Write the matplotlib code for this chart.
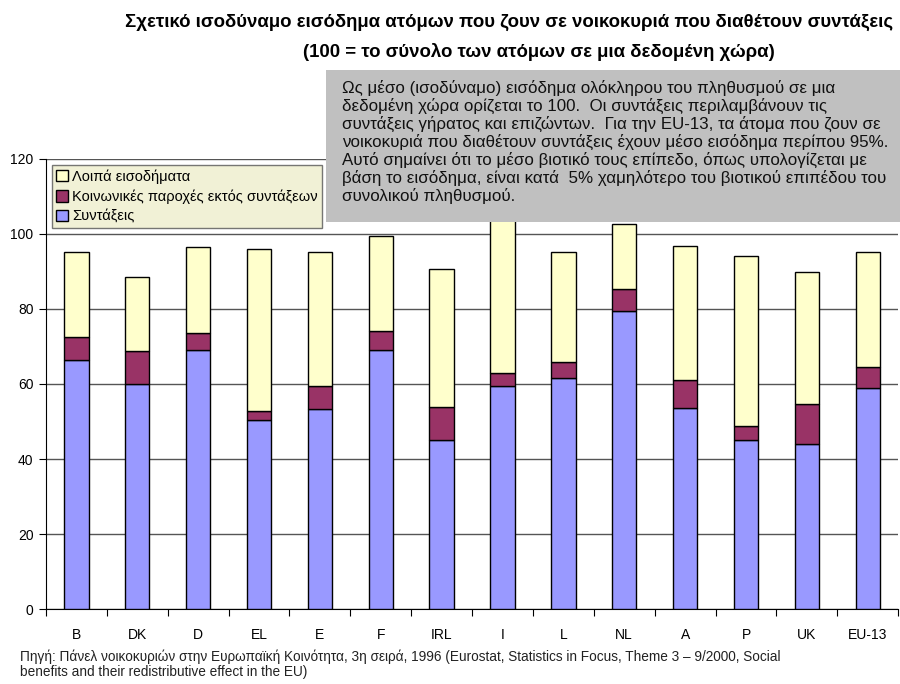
import matplotlib.pyplot as plt
import matplotlib.patches as mpatches
import numpy as np

plt.rcParams['font.family'] = ['Liberation Sans', 'DejaVu Sans']

# Δεδομένα (διαβασμένα από το γράφημα)
countries = ['B', 'DK', 'D', 'EL', 'E', 'F', 'IRL', 'I', 'L', 'NL', 'A', 'P', 'UK', 'EU-13']
pensions = [66.4, 60.1, 69.1, 50.4, 53.3, 69.1, 45.0, 59.5, 61.5, 79.5, 53.5, 45.2, 44.0, 58.9]
pens_plus_social = [72.6, 68.7, 73.7, 52.9, 59.4, 74.2, 53.9, 62.9, 65.9, 85.4, 61.0, 48.9, 54.7, 64.5]
totals = [95.1, 88.4, 96.6, 95.9, 95.3, 99.5, 90.6, 105.0, 95.3, 102.7, 96.9, 94.0, 89.8, 95.2]

social = np.array(pens_plus_social) - np.array(pensions)
other = np.array(totals) - np.array(pens_plus_social)

labels = ['Συντάξεις', 'Κοινωνικές παροχές εκτός συντάξεων', 'Λοιπά εισοδήματα']
colors = ['#9999FF', '#993366', '#FFFFCC']

fig = plt.figure(figsize=(9, 6.84), dpi=100)
ax = fig.add_axes([0.051, 0.1096, 0.947, 0.658])

x = np.arange(len(countries))
w = 0.4
b1 = ax.bar(x, pensions, w, color=colors[0], edgecolor='black', linewidth=1, zorder=3, label=labels[0])
b2 = ax.bar(x, social, w, bottom=pensions, color=colors[1], edgecolor='black', linewidth=1, zorder=3, label=labels[1])
b3 = ax.bar(x, other, w, bottom=pens_plus_social, color=colors[2], edgecolor='black', linewidth=1, zorder=3, label=labels[2])

ax.set_xlim(-0.5, len(countries) - 0.5)
ax.set_ylim(0, 120)
ax.set_yticks(range(0, 121, 20))
ax.yaxis.grid(True, color='#555555', linewidth=1)
ax.set_axisbelow(True)

# x ticks ανάμεσα στις κατηγορίες
ax.set_xticks(np.arange(-0.5, len(countries), 1.0), minor=False)
ax.set_xticklabels([])
ax.set_xticks(x, minor=True)
ax.set_xticklabels(countries, minor=True, fontsize=10)
ax.tick_params(axis='x', which='minor', length=0, pad=14)
ax.tick_params(axis='x', which='major', length=5, direction='out', color='black')
ax.tick_params(axis='y', length=5, direction='out', labelsize=10, pad=4)

for side in ['top', 'right']:
    ax.spines[side].set_visible(False)
ax.spines['left'].set_color('black')
ax.spines['bottom'].set_color('black')

leg = ax.legend(handles=[b3, b2, b1], labels=labels[::-1], loc='upper left',
                bbox_to_anchor=(0.007, 0.987), fontsize=10.5, frameon=True,
                fancybox=False, facecolor='#EEEECC', edgecolor='#555555',
                handlelength=0.8, handleheight=0.8, handletextpad=0.3,
                labelspacing=0.4, borderpad=0.3, borderaxespad=0)
leg.get_frame().set_linewidth(1)
leg.set_zorder(5)

# Τίτλος
fig.text(0.566, 1 - 22 / 684, 'Σχετικό ισοδύναμο εισόδημα ατόμων που ζουν σε νοικοκυριά που διαθέτουν συντάξεις',
         ha='center', va='center', fontsize=13.4, fontweight='bold')
fig.text(0.599, 1 - 52 / 684, '(100 = το σύνολο των ατόμων σε μια δεδομένη χώρα)',
         ha='center', va='center', fontsize=13.4, fontweight='bold')

# Γκρι πλαίσιο σχολίου
box = mpatches.Rectangle((326 / 900, 1 - 222 / 684), (900 - 326) / 900, (222 - 70) / 684,
                         transform=fig.transFigure, facecolor='#C0C0C0', edgecolor='none', zorder=10)
fig.add_artist(box)
note = ('Ως μέσο (ισοδύναμο) εισόδημα ολόκληρου του πληθυσμού σε μια\n'
        'δεδομένη χώρα ορίζεται το 100.  Οι συντάξεις περιλαμβάνουν τις\n'
        'συντάξεις γήρατος και επιζώντων.  Για την EU-13, τα άτομα που ζουν σε\n'
        'νοικοκυριά που διαθέτουν συντάξεις έχουν μέσο εισόδημα περίπου 95%.\n'
        'Αυτό σημαίνει ότι το μέσο βιοτικό τους επίπεδο, όπως υπολογίζεται με\n'
        'βάση το εισόδημα, είναι κατά  5% χαμηλότερο του βιοτικού επιπέδου του\n'
        'συνολικού πληθυσμού.')
fig.text(342 / 900, 1 - 80 / 684, note, ha='left', va='top', fontsize=12.2,
         linespacing=1.15, zorder=11, color='#111111')

# Πηγή
fig.text(20 / 900, 1 - 649 / 684,
         'Πηγή: Πάνελ νοικοκυριών στην Ευρωπαϊκή Κοινότητα, 3η σειρά, 1996 (Eurostat, Statistics in Focus, Theme 3 – 9/2000, Social\n'
         'benefits and their redistributive effect in the EU)',
         ha='left', va='top', fontsize=9.8, color='#222222', linespacing=1.1)

fig.savefig('out.png', dpi=100)
